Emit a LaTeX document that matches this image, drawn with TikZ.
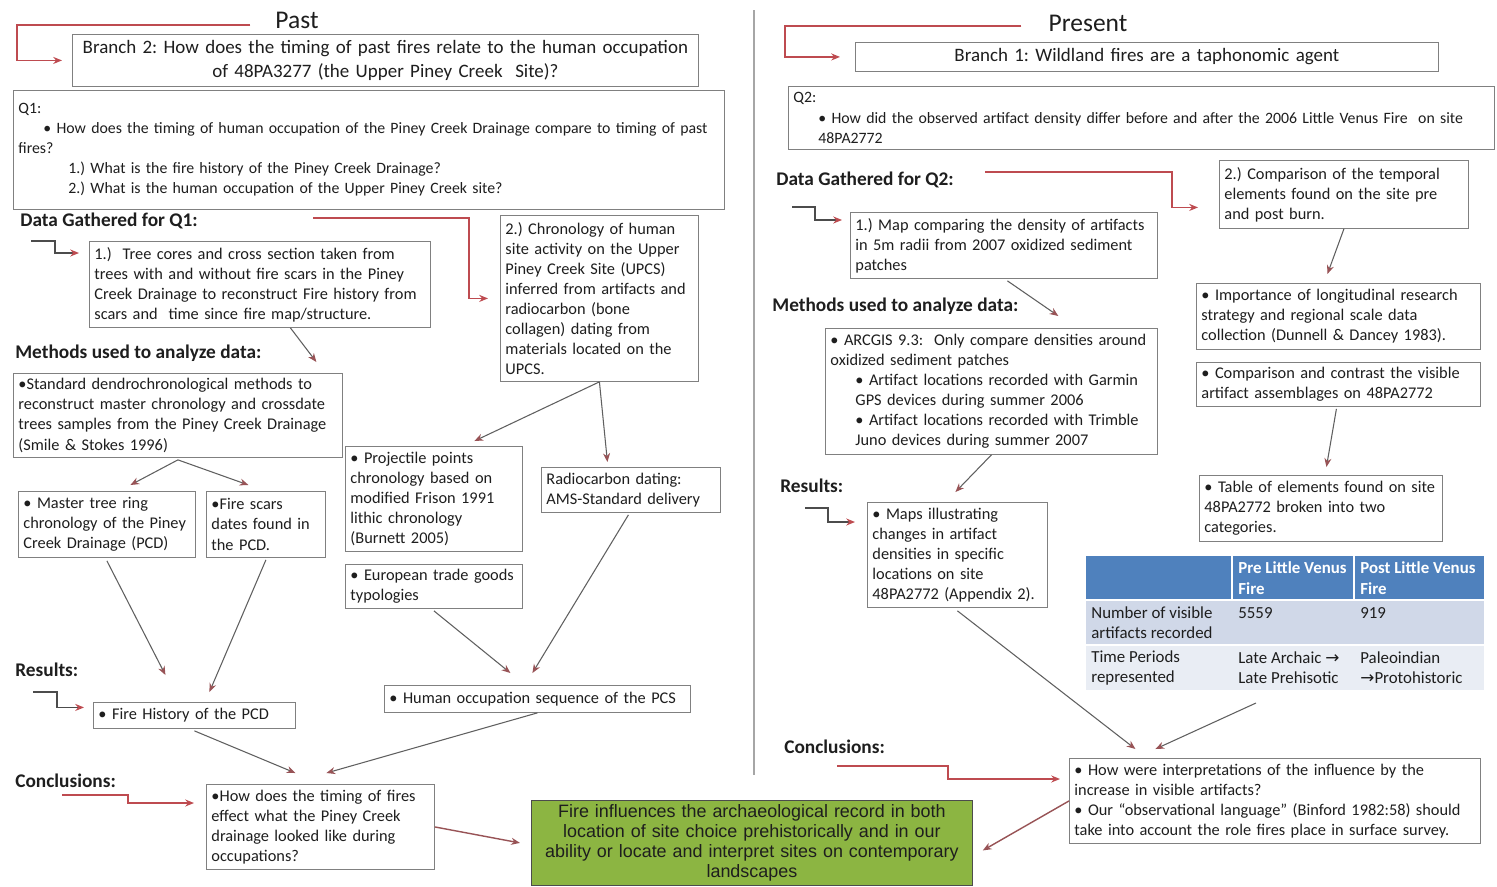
\documentclass[tikz,border=0pt]{standalone}
\usepackage{fontspec}
\setmainfont{Carlito}
\newfontfamily\arialfont{Liberation Sans}
\newfontfamily\symfont{DejaVu Sans}
\usetikzlibrary{arrows.meta,positioning}

\definecolor{fireline}{RGB}{190,75,80}
\definecolor{boxgray}{RGB}{128,128,128}
\definecolor{arrgray}{RGB}{95,95,95}
\definecolor{txtdark}{RGB}{30,30,30}
\definecolor{greenfill}{RGB}{140,181,66}
\definecolor{tabblue}{RGB}{79,129,189}
\definecolor{tabrowa}{RGB}{208,216,232}
\definecolor{tabrowb}{RGB}{233,237,244}

\tikzset{
  box/.style={draw=boxgray, line width=0.5pt, align=left, anchor=north west,
    inner xsep=0.1cm, inner ysep=0pt, text=txtdark,
    font=\fontsize{9.3}{11.4}\selectfont},
  hdr/.style={anchor=west, inner sep=0pt, text=txtdark,
    font=\fontsize{11}{13}\selectfont\bfseries},
  cell/.style={anchor=west, align=left, inner sep=0pt, text=txtdark,
    font=\fontsize{9.6}{11.6}\selectfont},
  flow/.style={draw=arrgray, line width=0.6pt,
    -{Stealth[length=5pt,width=4pt,color=fireline!60!arrgray]}},
  redflow/.style={draw=fireline, line width=0.8pt, -{Stealth[length=5pt,width=4pt]}},
  grayflow/.style={draw=arrgray!80!black, line width=0.8pt,
    -{Stealth[length=5pt,width=4pt,color=fireline]}},
}

\begin{document}
\frenchspacing
\begin{tikzpicture}[x=0.02cm,y=-0.02cm]
\useasboundingbox[fill=white] (0,0) rectangle (1497,886);
\draw[boxgray!70, line width=0.6pt] (754,10) -- (754,775);

% ---- Past (left half) ----
\node (past) [font=\fontsize{14.5}{17}\selectfont, text=txtdark] at (297,20) {Past};
\node (branchtwo) [box, align=center, text width=12.32cm, minimum height=1.04cm,
  font=\fontsize{10.8}{13.6}\selectfont] at (72,34)
  {Branch 2: How does the timing of past fires relate to the human occupation\\of 48PA3277 (the Upper Piney Creek\ \ Site)?};
\node (qone) [box, text width=14.02cm, minimum height=2.38cm,
  font=\fontsize{9}{11.4}\selectfont] at (13,90)
  {Q1:\\\hspace*{0.5cm}• How does the timing of human occupation of the Piney Creek Drainage compare to timing of past\\fires?\\\hspace*{1cm}1.) What is the fire history of the Piney Creek Drainage?\\\hspace*{1cm}2.) What is the human occupation of the Upper Piney Creek site?};

\node (dataone) [hdr] at (20,221) {Data Gathered for Q1:};
\node (treebox) [box, text width=6.62cm, minimum height=1.72cm] at (89,241)
  {1.)\ \ Tree cores and cross section taken from\\trees with and without fire scars in the Piney\\Creek Drainage to reconstruct Fire history from\\scars and\ \ time since fire map/structure.};
\node (chronbox) [box, text width=3.76cm, minimum height=3.32cm] at (500,215)
  {2.) Chronology of human\\site activity on the Upper\\Piney Creek Site (UPCS)\\inferred from artifacts and\\radiocarbon (bone\\collagen) dating from\\materials located on the\\UPCS.};

\node (methodsone) [hdr] at (15,353) {Methods used to analyze data:};
\node (dendrobox) [box, text width=6.38cm, minimum height=1.68cm] at (13,373)
  {•Standard dendrochronological methods to\\reconstruct master chronology and crossdate\\trees samples from the Piney Creek Drainage\\(Smile \& Stokes 1996)};
\node (masterbox) [box, text width=3.34cm, minimum height=1.32cm] at (18,491)
  {• Master tree ring\\chronology of the Piney\\Creek Drainage (PCD)};
\node (scarbox) [box, text width=2.18cm, minimum height=1.32cm] at (206,491)
  {•Fire scars\\dates found in\\the PCD.};
\node (projbox) [box, text width=3.34cm, minimum height=2.1cm] at (345,446)
  {• Projectile points\\chronology based on\\modified Frison 1991\\lithic chronology\\(Burnett 2005)};
\node (radiobox) [box, text width=3.38cm, minimum height=0.9cm] at (541,467)
  {Radiocarbon dating:\\AMS-Standard delivery};
\node (eurobox) [box, text width=3.34cm, minimum height=0.88cm] at (345,564)
  {• European trade goods\\typologies};

\node (resultsone) [hdr] at (15,670) {Results:};
\node (firehist) [box, text width=3.84cm, minimum height=0.52cm] at (93,702)
  {• Fire History of the PCD};
\node (humanocc) [box, text width=5.92cm, minimum height=0.54cm] at (384,685)
  {• Human occupation sequence of the PCS};

\node (conclone) [hdr] at (15,781) {Conclusions:};
\node (timingbox) [box, text width=4.36cm, minimum height=1.7cm] at (206,784)
  {•How does the timing of fires\\effect what the Piney Creek\\drainage looked like during\\occupations?};
\node (greenbox) [box, align=center, text width=8.62cm, minimum height=1.7cm,
  fill=greenfill, draw=gray!60!black, font=\arialfont\fontsize{10.2}{11.4}\selectfont] at (531,800)
  {Fire influences the archaeological record in both\\location of site choice prehistorically and in our\\ability or locate and interpret sites on contemporary\\landscapes};

% ---- Present (right half) ----
\node (present) [font=\fontsize{14.5}{17}\selectfont, text=txtdark] at (1088,23) {Present};
\node (branchone) [box, align=center, text width=11.46cm, minimum height=0.58cm,
  font=\fontsize{10.8}{13.6}\selectfont] at (855,42)
  {Branch 1: Wildland fires are a taphonomic agent};
\node (qtwo) [box, text width=13.92cm, minimum height=1.26cm,
  font=\fontsize{9}{11.4}\selectfont] at (788,86)
  {Q2:\\\hspace*{0.5cm}• How did the observed artifact density differ before and after the 2006 Little Venus Fire\ \ on site\\\hspace*{0.5cm}48PA2772};

\node (datatwo) [hdr] at (776,180) {Data Gathered for Q2:};
\node (comparebox) [box, text width=4.78cm, minimum height=1.36cm] at (1219,160)
  {2.) Comparison of the temporal\\elements found on the site pre\\and post burn.};
\node (mapbox) [box, text width=5.94cm, minimum height=1.32cm] at (850,212)
  {1.) Map comparing the density of artifacts\\in 5m radii from 2007 oxidized sediment\\patches};

\node (methodstwo) [hdr] at (772,306) {Methods used to analyze data:};
\node (arcbox) [box, text width=6.44cm, minimum height=2.52cm] at (825,328)
  {• ARCGIS 9.3:\ \ Only compare densities around\\oxidized sediment patches\\\hspace*{0.5cm}• Artifact locations recorded with Garmin\\\hspace*{0.5cm}GPS devices during summer 2006\\\hspace*{0.5cm}• Artifact locations recorded with Trimble\\\hspace*{0.5cm}Juno devices during summer 2007};
\node (importbox) [box, text width=5.48cm, minimum height=1.32cm] at (1196,283)
  {• Importance of longitudinal research\\strategy and regional scale data\\collection (Dunnell \& Dancey 1983).};
\node (contrastbox) [box, text width=5.48cm, minimum height=0.88cm] at (1196,362)
  {• Comparison and contrast the visible\\artifact assemblages on 48PA2772};

\node (resultstwo) [hdr] at (780,486) {Results:};
\node (mapsbox) [box, text width=3.4cm, minimum height=2.1cm] at (867,502)
  {• Maps illustrating\\changes in artifact\\densities in specific\\locations on site\\48PA2772 (Appendix 2).};
\node (tablebox) [box, text width=4.66cm, minimum height=1.32cm] at (1199,475)
  {• Table of elements found on site\\48PA2772 broken into two\\categories.};

% table of counts
\fill[tabblue] (1086,556) rectangle (1484,600);
\fill[tabrowa] (1086,600) rectangle (1484,645);
\fill[tabrowb] (1086,645) rectangle (1484,690);
\draw[white, line width=0.8pt] (1086,600) -- (1484,600) (1086,645) -- (1484,645)
  (1232,556) -- (1232,600) (1354,556) -- (1354,600);
\node (tabpre) [cell, text=white, font=\fontsize{9.6}{11.6}\selectfont\bfseries] at (1238,578) {Pre Little Venus\\Fire};
\node (tabpost) [cell, text=white, font=\fontsize{9.6}{11.6}\selectfont\bfseries] at (1360,578) {Post Little Venus\\Fire};
\node (tabnum) [cell] at (1091,623) {Number of visible\\artifacts recorded};
\node (tabnumpre) [cell] at (1238,613) {5559};
\node (tabnumpost) [cell] at (1360,613) {919};
\node (tabtime) [cell] at (1091,668) {Time Periods\\represented};
\node (tabtimepre) [cell] at (1238,668) {Late Archaic {\symfont →}\\Late Prehisotic};
\node (tabtimepost) [cell] at (1360,668) {Paleoindian\\{\symfont →}Protohistoric};
\coordinate (tabfoot) at (1256,703);

\node (concltwo) [hdr] at (784,747) {Conclusions:};
\node (interpbox) [box, text width=8.02cm, minimum height=1.7cm] at (1069,758)
  {• How were interpretations of the influence by the\\increase in visible artifacts?\\• Our “observational language” (Binford 1982:58) should\\take into account the role fires place in surface survey.};

% brackets
\coordinate (dqone) at (313,218);
\coordinate (dqonel) at (31,241);
\coordinate (resl) at (33,692);
\coordinate (conl) at (62,795);
\coordinate (dqtwo) at (985,172);
\coordinate (dqtwol) at (792,207);
\coordinate (resr) at (805,508);
\coordinate (conr) at (837,766);
\draw[redflow] ([xshift=-0.38cm,yshift=-0.1cm]past.west) -| ([xshift=-1.1cm]branchtwo.west)
  -- ([xshift=-0.2cm]branchtwo.west);
\draw[redflow] (dqone) -| ([xshift=-0.62cm]chronbox.west) -- ([xshift=-0.24cm]chronbox.west);
\draw[grayflow] (dqonel) -- ++(24,0) |- ([xshift=-0.2cm,yshift=-0.24cm]treebox.north west);
\draw[grayflow] (resl) -- ++(24,0) |- ([xshift=-0.18cm,yshift=0.16cm]firehist.west);
\draw[redflow] (conl) -- ++(66,0) |- ([xshift=-0.24cm,yshift=-0.38cm]timingbox.north west);
\draw[redflow] ([xshift=-0.42cm,yshift=-0.06cm]present.west) -| ([xshift=-1.4cm]branchone.west)
  -- ([xshift=-0.3cm]branchone.west);
\draw[redflow] (dqtwo) -- ++(187,0) |- ([xshift=-0.42cm,yshift=-0.26cm]comparebox.west);
\draw[grayflow] (dqtwol) -- ++(23,0) |- ([xshift=-0.16cm,yshift=-0.16cm]mapbox.north west);
\draw[grayflow] (resr) -- ++(23,0) |- ([xshift=-0.24cm,yshift=-0.4cm]mapsbox.north west);
\draw[redflow] (conr) -- ++(111,0) |- ([xshift=-0.18cm,yshift=-0.42cm]interpbox.north west);

% flow arrows, left
\draw[flow] ([xshift=0.61cm]treebox.south) -- ([xshift=2.77cm,yshift=0.22cm]dendrobox.north);
\draw[flow] ([yshift=-0.04cm]dendrobox.south) -- ([xshift=0.47cm,yshift=0.12cm]masterbox.north);
\draw[flow] ([yshift=-0.04cm]dendrobox.south) -- ([xshift=-0.35cm,yshift=0.12cm]scarbox.north);
\draw[flow] (chronbox.south) -- ([xshift=0.81cm,yshift=0.1cm]projbox.north);
\draw[flow] (chronbox.south) -- ([xshift=-0.47cm,yshift=0.1cm]radiobox.north);
\draw[flow] ([yshift=-0.06cm]masterbox.south) -- ([xshift=-0.58cm,yshift=0.54cm]firehist.north);
\draw[flow] ([yshift=-0.04cm]scarbox.south) -- ([xshift=0.3cm,yshift=0.2cm]firehist.north);
\draw[flow] ([yshift=-0.04cm]eurobox.south) -- ([xshift=-0.54cm,yshift=0.24cm]humanocc.north);
\draw[flow] ([xshift=-0.05cm,yshift=-0.04cm]radiobox.south) -- ([xshift=-0.1cm,yshift=0.24cm]humanocc.north);
\draw[flow] ([yshift=-0.04cm]firehist.south) -- ([xshift=-0.5cm,yshift=0.22cm]timingbox.north);
\draw[flow] (humanocc.south) -- ([xshift=0.12cm,yshift=0.22cm]timingbox.north);
\draw[redflow, draw=fireline!60!arrgray] (timingbox.east) -- ([xshift=-0.22cm]greenbox.west);

% flow arrows, right
\draw[flow] ([xshift=0.07cm,yshift=-0.04cm]mapbox.south) -- ([xshift=1.34cm,yshift=0.24cm]arcbox.north);
\draw[flow] (arcbox.south) -- ([xshift=-0.04cm,yshift=0.2cm]mapsbox.north);
\draw[flow] (comparebox.south) -- ([xshift=-0.22cm,yshift=0.18cm]importbox.north);
\draw[flow] ([xshift=-0.04cm,yshift=-0.04cm]contrastbox.south) -- ([xshift=0.11cm,yshift=0.16cm]tablebox.north);
\draw[flow] ([yshift=-0.06cm]mapsbox.south) -- ([xshift=-2.79cm,yshift=0.18cm]interpbox.north);
\draw[flow] (tabfoot) -- ([xshift=-2.39cm,yshift=0.18cm]interpbox.north);
\draw[redflow, draw=fireline!60!arrgray] (interpbox.west) -- ([xshift=0.2cm,yshift=-0.15cm]greenbox.east);
\end{tikzpicture}
\end{document}
